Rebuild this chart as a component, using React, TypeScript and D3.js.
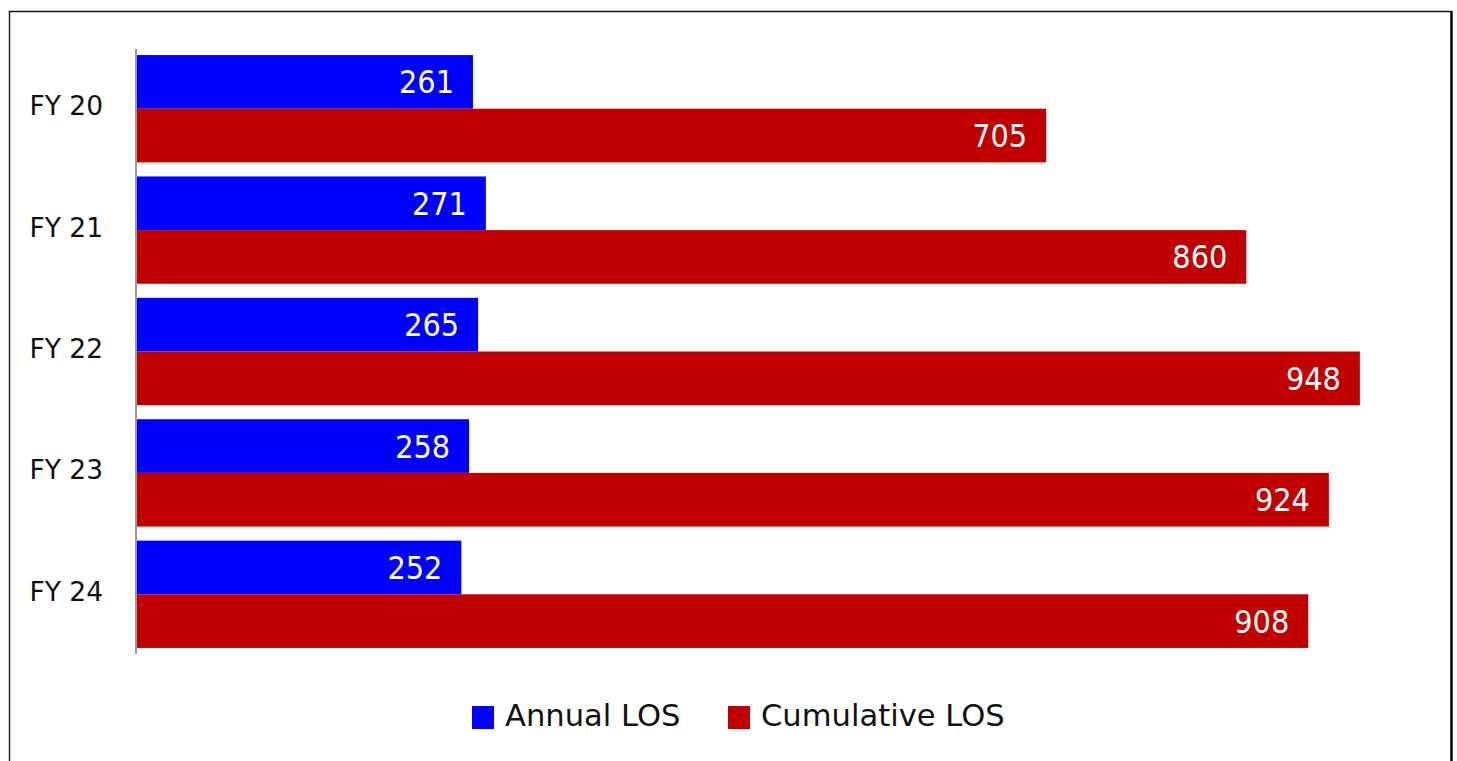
import React from 'react';
import * as d3 from 'd3';

const categories = ['FY 20', 'FY 21', 'FY 22', 'FY 23', 'FY 24'];
const seriesNames = ['Annual LOS', 'Cumulative LOS'];
const annualLos = [261, 271, 265, 258, 252];
const cumulativeLos = [705, 860, 948, 924, 908];

const COLORS: Record<string, string> = {
  'Annual LOS': '#0000ff',
  'Cumulative LOS': '#c00000',
};

const W = 1457;
const H = 761;
const FONT = '"DejaVu Sans", sans-serif';

export default function App() {
  const values: Record<string, number[]> = {
    'Annual LOS': annualLos,
    'Cumulative LOS': cumulativeLos,
  };

  const x = d3.scaleLinear().domain([0, 1000]).range([136, 1427]);
  const y = d3
    .scaleBand<string>()
    .domain(categories)
    .range([49, 654])
    .paddingInner(0.116)
    .paddingOuter(0.05);
  const ySub = d3
    .scaleBand<string>()
    .domain(seriesNames)
    .range([0, y.bandwidth()]);

  return (
    <svg
      width={W}
      height={H}
      style={{ position: 'absolute', left: 0, top: 0, background: '#fff' }}
    >
      {/* frame */}
      <line x1={9.5} y1={11} x2={9.5} y2={H} stroke="#222" strokeWidth={1.5} />
      <line x1={9} y1={11.5} x2={1452} y2={11.5} stroke="#111" strokeWidth={1.5} />
      <line x1={1451.5} y1={11} x2={1451.5} y2={H} stroke="#000" strokeWidth={2.5} />

      {categories.map((cat, i) => (
        <g key={cat}>
          {seriesNames.map((s) => {
            const v = values[s][i];
            const y0 = (y(cat) ?? 0) + (ySub(s) ?? 0);
            const h = ySub.bandwidth();
            return (
              <g key={s}>
                <rect
                  x={x(0)}
                  y={y0}
                  width={x(v) - x(0)}
                  height={h}
                  fill={COLORS[s]}
                />
                <text
                  x={x(v) - 19}
                  y={y0 + h / 2}
                  dy="0.36em"
                  textAnchor="end"
                  fill="#fff"
                  fontFamily={'"DejaVu Sans Condensed", "DejaVu Sans", sans-serif'}
                  fontSize={32}
                >
                  {v}
                </text>
              </g>
            );
          })}
          <text
            x={103}
            y={(y(cat) ?? 0) + y.bandwidth() / 2 - 3}
            dy="0.36em"
            textAnchor="end"
            fontFamily={FONT}
            fontSize={26.5}
            fill="#111"
          >
            {cat}
          </text>
        </g>
      ))}

      {/* axis line */}
      <line x1={x(0)} y1={49} x2={x(0)} y2={654} stroke="#999" strokeWidth={2} />

      {/* legend */}
      {seriesNames.map((s, i) => {
        const lx = [472, 728][i];
        return (
          <g key={s}>
            <rect x={lx} y={706} width={22} height={23} fill={COLORS[s]} />
            <text
              x={lx + 33}
              y={715}
              dy="0.36em"
              fontFamily={FONT}
              fontSize={30.6}
              fill="#111"
            >
              {s}
            </text>
          </g>
        );
      })}
    </svg>
  );
}
